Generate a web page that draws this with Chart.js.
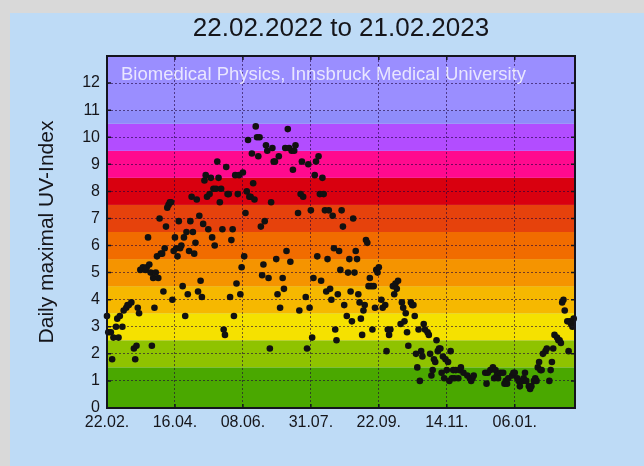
<!DOCTYPE html>
<html>
<head>
<meta charset="utf-8">
<title>UV-Index Innsbruck</title>
<script src="https://cdn.jsdelivr.net/npm/chart.js@4.4.0/dist/chart.umd.min.js"></script>
<style>
  html, body { margin: 0; padding: 0; background: #d9d9d9; }
  #wrap { width: 644px; height: 466px; }
</style>
</head>
<body>
<div id="wrap"><canvas id="uvChart" width="644" height="466"></canvas></div>
<script>
// texts
const titleText = '22.02.2022 to 21.02.2023';
const yAxisTitle = 'Daily maximal UV-Index';
const creditText = 'Biomedical Physics, Innsbruck Medical University';

// axes: x = days since 22.02.2022
const xTickDays = [0, 53, 106, 159, 212, 265, 318];
const xTickLabels = ['22.02.', '16.04.', '08.06.', '31.07.', '22.09.', '14.11.', '06.01.'];
const yTicks = [0, 1, 2, 3, 4, 5, 6, 7, 8, 9, 10, 11, 12];

// UV index colour bands (lower/upper limits)
const bandLimits = [0, 1.5, 2.5, 3.5, 4.5, 5.5, 6.5, 7.5, 8.5, 9.5, 10.5, 11, 13];
const bandColors = ['#4aa800', '#8fc300', '#f5e100', '#f6b800', '#f59400', '#f16c00',
                    '#e6420c', '#d9000f', '#ff0a8e', '#b24dff', '#8f8cfa', '#9a8eff'];

// daily maximum, day number and value
const uvDay = [
  0, 1, 3, 4, 5, 7, 8, 9, 10, 12,
  13, 15, 16, 17, 19, 21, 22, 23, 24, 25,
  26, 28, 30, 31, 32, 33, 34, 35, 36, 37,
  38, 39, 40, 41, 42, 43, 44, 45, 46, 47,
  48, 49, 50, 51, 52, 53, 54, 55, 56, 57,
  58, 59, 60, 61, 62, 63, 64, 65, 66, 67,
  68, 69, 70, 71, 72, 73, 74, 75, 76, 77,
  78, 79, 80, 81, 82, 83, 84, 85, 86, 87,
  88, 89, 90, 91, 92, 93, 94, 95, 96, 97,
  98, 99, 100, 101, 102, 103, 104, 105, 106, 107,
  108, 109, 110, 111, 112, 113, 114, 115, 116, 117,
  118, 119, 120, 121, 122, 123, 124, 125, 126, 127,
  128, 129, 130, 131, 132, 133, 134, 135, 137, 138,
  139, 140, 141, 142, 143, 144, 145, 146, 147, 149,
  150, 151, 152, 153, 155, 156, 157, 158, 159, 160,
  161, 162, 163, 164, 165, 166, 167, 168, 169, 170,
  171, 172, 173, 174, 175, 176, 177, 178, 179, 180,
  181, 182, 183, 184, 185, 187, 188, 189, 190, 191,
  192, 193, 194, 195, 196, 197, 198, 199, 200, 201,
  202, 203, 204, 205, 206, 207, 208, 209, 210, 211,
  212, 214, 215, 217, 218, 219, 220, 221, 223, 224,
  225, 226, 227, 229, 230, 231, 232, 233, 234, 235,
  237, 238, 239, 240, 241, 242, 243, 244, 245, 246,
  247, 248, 250, 251, 252, 253, 254, 255, 256, 257,
  258, 259, 260, 261, 262, 263, 264, 265, 266, 267,
  268, 269, 270, 271, 272, 274, 275, 276, 278, 281,
  283, 284, 285, 286, 295, 296, 297, 299, 301, 302,
  303, 304, 305, 307, 309, 310, 311, 312, 313, 316,
  317, 318, 320, 321, 322, 324, 325, 326, 327, 329,
  330, 331, 333, 334, 335, 336, 337, 338, 339, 340,
  342, 343, 345, 346, 347, 348, 349, 351, 352, 353,
  354, 355, 356, 357, 359, 360, 361, 362, 363, 364
];
const uvMax = [
  3.4, 2.8, 2.8, 1.8, 2.6, 3.0, 3.3, 2.6, 3.4, 3.0,
  3.6, 3.7, 3.8, 3.8, 3.9, 2.2, 1.8, 2.3, 3.7, 3.5,
  5.1, 5.2, 5.1, 5.2, 6.3, 5.3, 5.0, 2.3, 4.8, 3.7,
  5.0, 5.6, 4.8, 7.0, 5.7, 5.7, 4.3, 5.9, 6.7, 7.4,
  7.5, 7.6, 7.6, 4.0, 5.8, 6.3, 5.9, 5.6, 6.9, 5.9,
  6.0, 4.5, 6.3, 3.4, 6.5, 4.2, 5.8, 6.9, 7.8, 6.5,
  5.7, 6.1, 7.7, 4.3, 7.1, 4.7, 4.1, 6.8, 8.4, 8.6,
  7.8, 6.6, 7.9, 8.5, 6.3, 8.1, 6.0, 8.1, 9.1, 8.5,
  7.6, 8.1, 6.6, 2.9, 2.7, 8.9, 7.9, 7.9, 4.1, 6.2,
  6.6, 3.4, 8.6, 4.6, 7.9, 8.6, 4.2, 5.2, 8.7, 5.6,
  7.2, 8.0, 9.9, 7.8, 7.8, 9.4, 8.3, 7.7, 10.4, 10.0,
  9.3, 10.0, 6.7, 4.9, 5.3, 6.9, 9.7, 9.5, 4.8, 2.2,
  7.6, 9.6, 9.1, 9.1, 5.5, 4.2, 9.3, 3.7, 4.8, 4.4,
  9.6, 5.8, 10.3, 9.6, 5.4, 9.5, 8.8, 9.5, 9.7, 7.2,
  3.6, 7.9, 9.1, 7.8, 4.1, 2.2, 9.0, 3.7, 7.3, 2.6,
  4.8, 8.6, 9.1, 5.6, 9.3, 7.9, 4.7, 8.5, 7.9, 7.3,
  4.3, 5.5, 7.3, 4.4, 4.0, 7.1, 5.9, 2.9, 2.5, 4.2,
  5.8, 5.1, 7.3, 6.7, 3.8, 3.4, 5.0, 5.5, 4.3, 3.2,
  7.0, 5.0, 5.8, 5.5, 4.2, 3.9, 3.3, 2.7, 3.6, 3.8,
  6.2, 6.1, 4.5, 4.8, 4.5, 2.9, 4.5, 3.7, 5.1, 5.0,
  5.2, 4.0, 3.7, 3.8, 2.1, 2.9, 2.7, 2.9, 4.5, 4.2,
  4.6, 4.4, 4.7, 3.1, 3.9, 3.7, 3.2, 3.5, 2.8, 2.3,
  3.9, 3.8, 3.8, 3.4, 2.0, 1.5, 2.9, 1.0, 2.1, 1.9,
  3.1, 2.9, 2.8, 2.7, 2.0, 1.2, 1.4, 1.8, 1.7, 2.5,
  2.1, 2.2, 2.2, 1.3, 1.9, 1.1, 1.8, 1.4, 1.7, 1.0,
  2.1, 1.1, 1.4, 1.1, 1.4, 1.1, 1.4, 1.5, 1.3, 1.2,
  1.1, 1.0, 1.1, 1.2, 1.3, 0.9, 1.3, 1.4, 1.5, 1.1,
  1.4, 1.2, 1.1, 1.3, 1.3, 0.9, 1.0, 0.9, 1.1, 1.2,
  1.3, 1.3, 1.1, 1.0, 0.8, 1.0, 1.1, 1.3, 1.0, 0.8,
  0.7, 0.8, 1.0, 1.1, 1.0, 1.5, 1.7, 1.4, 1.4, 2.0,
  2.1, 2.2, 1.0, 1.4, 1.7, 2.2, 2.7, 2.6, 2.5, 2.5,
  2.4, 3.9, 4.0, 3.6, 3.2, 2.1, 3.2, 3.1, 3.0, 3.3
];

const points = uvDay.map((d, i) => ({ x: d, y: uvMax[i] }));

const fontFamily = '"Liberation Sans", Arial, Helvetica, sans-serif';
const textColor = '#15151a';
const gridColor = 'rgba(30, 0, 60, 0.6)';

// panel background + colour bands behind the grid
const background = {
  id: 'background',
  beforeDraw(chart) {
    const { ctx, chartArea: a, scales: { y } } = chart;
    ctx.save();
    ctx.fillStyle = '#d9d9d9';
    ctx.fillRect(0, 0, chart.width, chart.height);
    ctx.fillStyle = '#bedbf6';
    ctx.fillRect(10, 13, chart.width - 10, chart.height - 13);
    for (let i = 0; i < bandColors.length; i++) {
      const top = y.getPixelForValue(bandLimits[i + 1]);
      const bottom = y.getPixelForValue(bandLimits[i]);
      ctx.fillStyle = bandColors[i];
      ctx.fillRect(a.left, top, a.right - a.left, bottom - top);
    }
    ctx.restore();
  }
};

// frame, inner tick marks and the institute line
const frame = {
  id: 'frame',
  afterDraw(chart) {
    const { ctx, chartArea: a, scales: { x, y } } = chart;
    ctx.save();
    ctx.fillStyle = 'rgba(255, 255, 255, 0.78)';
    ctx.font = '18.5px ' + fontFamily;
    ctx.textBaseline = 'middle';
    ctx.fillText(creditText, a.left + 14, a.top + 19);

    ctx.strokeStyle = '#14141e';
    ctx.lineWidth = 1.5;
    ctx.beginPath();
    yTicks.forEach(v => {
      const py = y.getPixelForValue(v);
      ctx.moveTo(a.left, py); ctx.lineTo(a.left + 4, py);
      ctx.moveTo(a.right, py); ctx.lineTo(a.right - 4, py);
    });
    xTickDays.forEach(d => {
      const px = x.getPixelForValue(d);
      ctx.moveTo(px, a.top); ctx.lineTo(px, a.top + 4);
      ctx.moveTo(px, a.bottom); ctx.lineTo(px, a.bottom - 4);
    });
    ctx.stroke();

    ctx.lineWidth = 2;
    ctx.strokeRect(a.left, a.top, a.right - a.left, a.bottom - a.top);
    ctx.restore();
  }
};

new Chart(document.getElementById('uvChart'), {
  type: 'scatter',
  data: {
    datasets: [{
      data: points,
      backgroundColor: '#111111',
      borderWidth: 0,
      pointRadius: 3.3,
      pointHoverRadius: 3.3,
      clip: false
    }]
  },
  options: {
    responsive: false,
    animation: false,
    events: [],
    layout: { padding: { right: 69 } },
    plugins: {
      legend: { display: false },
      tooltip: { enabled: false },
      title: {
        display: true,
        text: titleText,
        fullSize: false,
        color: textColor,
        font: { family: fontFamily, size: 26, weight: 'normal' },
        padding: { top: 13, bottom: 11.8 }
      }
    },
    scales: {
      x: {
        type: 'linear',
        min: 0,
        max: 365,
        afterBuildTicks: s => { s.ticks = xTickDays.map(v => ({ value: v })); },
        afterFit: s => { s.height = 58; },
        ticks: {
          callback: (v, i) => xTickLabels[i],
          color: textColor,
          font: { family: fontFamily, size: 16 },
          padding: 5,
          maxRotation: 0,
          autoSkip: false
        },
        grid: { color: gridColor, drawTicks: false },
        border: { display: false, dash: [2, 2] }
      },
      y: {
        min: 0,
        max: 13,
        afterBuildTicks: s => { s.ticks = yTicks.map(v => ({ value: v })); },
        afterFit: s => { s.width = 107; },
        ticks: {
          callback: v => String(v),
          color: textColor,
          font: { family: fontFamily, size: 16 },
          padding: 7
        },
        title: {
          display: true,
          text: yAxisTitle,
          color: textColor,
          font: { family: fontFamily, size: 21 },
          padding: { top: 35, bottom: 0 }
        },
        grid: { color: gridColor, drawTicks: false },
        border: { display: false, dash: [2, 2] }
      }
    }
  },
  plugins: [background, frame]
});
</script>
</body>
</html>
